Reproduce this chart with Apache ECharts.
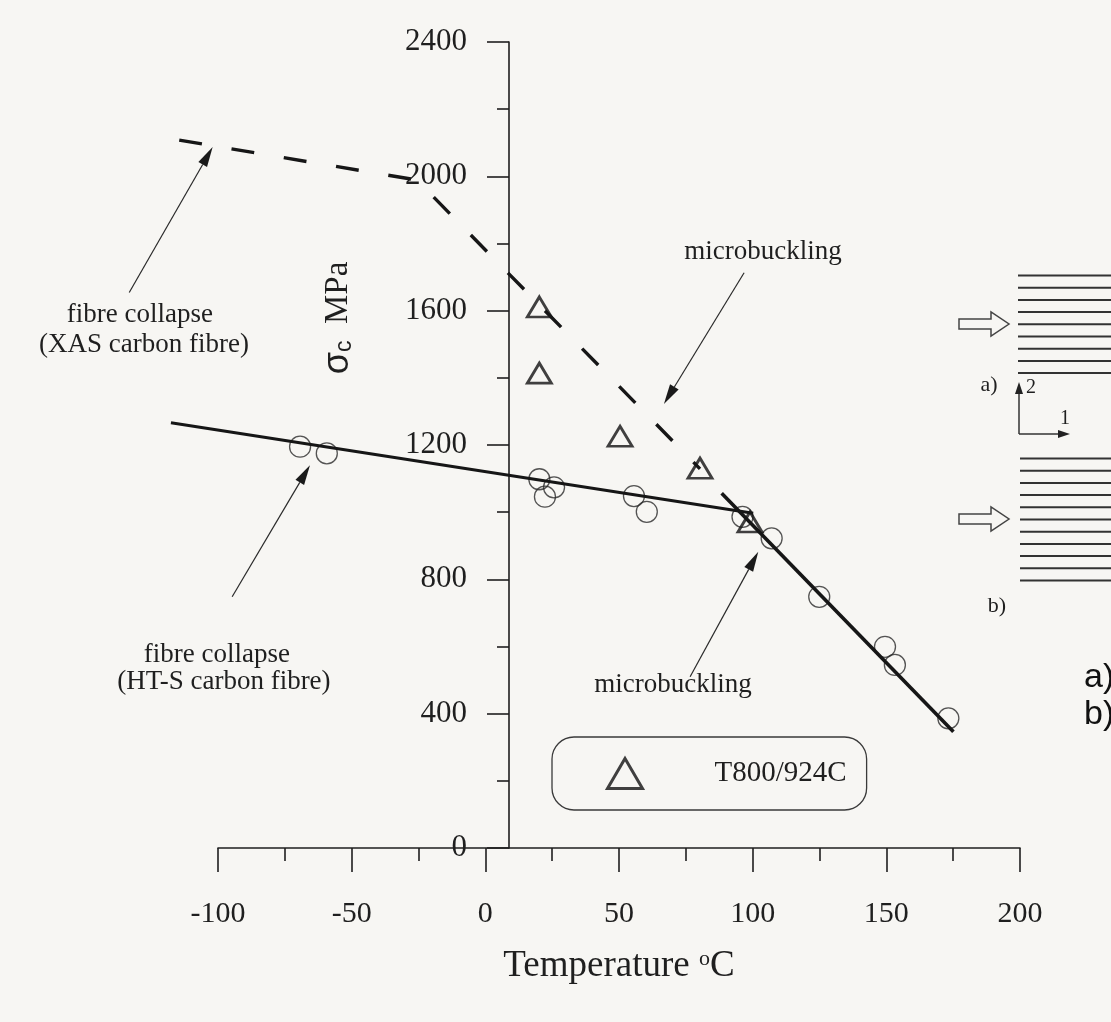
<!DOCTYPE html>
<html>
<head>
<meta charset="utf-8">
<script src="https://cdn.jsdelivr.net/npm/echarts@6/dist/echarts.min.js"></script>
<style>
  html, body { margin: 0; padding: 0; background: #f7f6f3; }
  #chart { width: 1111px; height: 1022px; }
</style>
</head>
<body>
<div id="chart"></div>
<script>
// Compressive strength of carbon-fibre composites vs. temperature

// XAS carbon fibre: fibre-collapse plateau, then microbuckling (dashed)
const xasTemp   = [-114.5, -25.6, 80.3];
const xasStress = [2108, 1989, 1129];

// HT-S carbon fibre: fibre-collapse branch (solid)
const htsLineTemp   = [-117.6, 100.2];
const htsLineStress = [1266, 997];

// Microbuckling branch (solid)
const mbLineTemp   = [88.4, 175.1];
const mbLineStress = [1056, 346];

// HT-S measurements (open circles)
const htsTemp   = [-69.3, -59.3, 20.2, 22.3, 25.7, 55.6, 60.4, 96.2, 107.1, 124.9, 149.5, 153.2, 173.2];
const htsStress = [1195, 1175, 1098, 1046, 1074, 1048, 1001, 986, 922, 748, 599, 545, 386];

// T800/924C measurements (open triangles)
const t800Temp   = [20.2, 20.2, 50.4, 80.3, 99.0];
const t800Stress = [1611, 1414, 1226, 1131, 971];

// Axis ranges (the lines run a little past the left end of the temperature axis)
const tempRange   = [-100, 200];
const plotTempMin = -130;
const stressRange = [0, 2400];

// Annotation arrows (tail -> head), in temperature / stress units
const noteArrowFrom = [[-133.2, 1654], [-94.7, 748], [96.8, 1713], [76.6, 510]];
const noteArrowTo   = [[-102.0, 2087], [-65.6, 1140], [66.8, 1322], [102.1, 882]];

// Annotation texts and their centres, in temperature / stress units
const noteTexts = ['fibre collapse', '(XAS carbon fibre)', 'fibre collapse', '(HT-S carbon fibre)', 'microbuckling', 'microbuckling'];
const noteAt    = [[-129.2, 1587], [-127.7, 1498], [-100.4, 575], [-97.8, 494], [103.9, 1775], [70.2, 485]];

const zip = (a, b) => a.map((v, i) => [v, b[i]]);
const ink = '#1f1f1f';
const serif = '"Liberation Serif", "Times New Roman", serif';
const sans = '"Liberation Sans", Arial, sans-serif';

const chart = echarts.init(document.getElementById('chart'), null, { renderer: 'canvas' });

const axisLineStyle = { color: ink, width: 1.6 };
const plotLeft = 218, plotRight = 91, plotTop = 42, plotBottom = 174;
const pxPerDeg = (1111 - plotLeft - plotRight) / (tempRange[1] - tempRange[0]);

chart.setOption({
  backgroundColor: '#f7f6f3',
  animation: false,
  textStyle: { fontFamily: serif, color: ink },
  grid: [
    // data grid, same scale as the temperature axis but reaching further left
    { left: plotLeft - (tempRange[0] - plotTempMin) * pxPerDeg, right: plotRight, top: plotTop, bottom: plotBottom },
    // temperature axis
    { left: plotLeft, right: plotRight, top: plotTop, bottom: plotBottom },
    // stress axis
    { left: 509, width: 20, top: plotTop, bottom: plotBottom }
  ],
  legend: {
    data: ['T800/924C'],
    left: 552, top: 737,
    padding: [20, 20, 20, 54],
    itemWidth: 35, itemHeight: 30,
    symbolKeepAspect: false,
    borderColor: '#3a3a3a', borderWidth: 1.3, borderRadius: 22,
    selectedMode: false,
    itemStyle: { color: 'rgba(0,0,0,0)', borderColor: '#111', borderWidth: 3 },
    textStyle: { fontSize: 29, fontFamily: serif, color: ink, padding: [0, 0, 0, 67] }
  },
  xAxis: [
    { gridIndex: 0, type: 'value', min: plotTempMin, max: tempRange[1], show: false },
    {
      gridIndex: 1, type: 'value', min: tempRange[0], max: tempRange[1], interval: 50,
      axisLine: { show: true, onZero: false, lineStyle: axisLineStyle },
      axisTick: { show: true, length: 24, lineStyle: axisLineStyle },
      minorTick: { show: true, splitNumber: 2, length: 13, lineStyle: axisLineStyle },
      splitLine: { show: false },
      axisLabel: { margin: 51, fontSize: 30, fontFamily: serif, color: ink },
      name: '{t|Temperature }{s|o}{t|C}',
      nameLocation: 'middle', nameGap: 100,
      nameTextStyle: {
        rich: {
          t: { fontSize: 37, fontFamily: serif, color: ink },
          s: { fontSize: 22, fontFamily: serif, color: ink, verticalAlign: 'top' }
        }
      }
    },
    { gridIndex: 2, type: 'value', min: 0, max: 1, show: false }
  ],
  yAxis: [
    { gridIndex: 0, type: 'value', min: stressRange[0], max: stressRange[1], show: false },
    { gridIndex: 1, type: 'value', min: stressRange[0], max: stressRange[1], show: false },
    {
      gridIndex: 2, type: 'value', min: stressRange[0], max: stressRange[1], interval: 400,
      position: 'left',
      axisLine: { show: true, onZero: false, lineStyle: axisLineStyle },
      axisTick: { show: true, length: 22, lineStyle: axisLineStyle },
      minorTick: { show: true, splitNumber: 2, length: 12, lineStyle: axisLineStyle },
      splitLine: { show: false },
      axisLabel: { margin: 42, fontSize: 31, fontFamily: serif, color: ink, formatter: v => String(v) }
    }
  ],
  series: [
    {
      name: 'XAS', type: 'line', xAxisIndex: 0, yAxisIndex: 0, clip: false, silent: true,
      data: zip(xasTemp, xasStress), symbol: 'none',
      lineStyle: { color: '#161616', width: 3.4, type: [23, 30] }
    },
    {
      name: 'HT-S', type: 'line', xAxisIndex: 0, yAxisIndex: 0, clip: false, silent: true,
      data: zip(htsLineTemp, htsLineStress), symbol: 'none',
      lineStyle: { color: '#161616', width: 3 }
    },
    {
      name: 'microbuckling', type: 'line', xAxisIndex: 0, yAxisIndex: 0, clip: false, silent: true,
      data: zip(mbLineTemp, mbLineStress), symbol: 'none',
      lineStyle: { color: '#161616', width: 3.6 }
    },
    {
      name: 'HT-S data', type: 'scatter', xAxisIndex: 0, yAxisIndex: 0, silent: true,
      data: zip(htsTemp, htsStress), symbol: 'circle', symbolSize: 21,
      itemStyle: { color: 'rgba(0,0,0,0)', borderColor: '#2a2a2a', borderWidth: 1.3 }
    },
    {
      name: 'T800/924C', type: 'scatter', xAxisIndex: 0, yAxisIndex: 0, silent: true,
      data: zip(t800Temp, t800Stress), symbol: 'triangle', symbolSize: [24, 20],
      itemStyle: { color: 'rgba(0,0,0,0)', borderColor: '#111', borderWidth: 2.8 }
    }
  ]
});

// --- annotations anchored to the data scale ---
const toPx = p => chart.convertToPixel({ gridIndex: 0 }, p);

function arrow(from, to) {
  const a = toPx(from), b = toPx(to);
  const dx = b[0] - a[0], dy = b[1] - a[1];
  const len = Math.hypot(dx, dy), ux = dx / len, uy = dy / len;
  const headL = 20, headW = 5;
  const bx = b[0] - ux * headL, by = b[1] - uy * headL;
  const nx = -uy, ny = ux;
  return [
    { type: 'line', silent: true, shape: { x1: a[0], y1: a[1], x2: bx, y2: by },
      style: { stroke: '#2a2a2a', lineWidth: 1.2 } },
    { type: 'polygon', silent: true,
      shape: { points: [b, [bx + nx * headW, by + ny * headW], [bx - nx * headW, by - ny * headW]] },
      style: { fill: '#1a1a1a' } }
  ];
}

const graphics = [];
noteArrowFrom.forEach((f, i) => graphics.push(...arrow(f, noteArrowTo[i])));
noteTexts.forEach((t, i) => {
  const p = toPx(noteAt[i]);
  graphics.push({ type: 'text', silent: true, x: p[0], y: p[1],
    style: { text: t, fontSize: 27, fontFamily: serif, fill: ink, align: 'center', verticalAlign: 'middle' } });
});

// stress axis title, reading upwards
graphics.push({
  type: 'text', silent: true, x: 338, y: 318, rotation: Math.PI / 2,
  style: {
    text: '{g|σ}{c|c}{m|  MPa}', align: 'center', verticalAlign: 'middle',
    rich: {
      g: { fontSize: 36, fontFamily: sans, fill: ink },
      c: { fontSize: 23, fontFamily: sans, fill: ink, verticalAlign: 'bottom' },
      m: { fontSize: 33, fontFamily: serif, fill: ink }
    }
  }
});

// --- loading-direction sketch at the right ---
const lineGroup = (x0, y0, n, step) => {
  for (let i = 0; i < n; i++) {
    const y = y0 + i * step;
    graphics.push({ type: 'line', silent: true, shape: { x1: x0, y1: y, x2: 1111, y2: y },
      style: { stroke: '#333', lineWidth: 2 } });
  }
};
const hollowArrow = (x0, yc) => {
  graphics.push({ type: 'polygon', silent: true,
    shape: { points: [[x0, yc - 5], [x0 + 32, yc - 5], [x0 + 32, yc - 12], [x0 + 50, yc], [x0 + 32, yc + 12], [x0 + 32, yc + 5], [x0, yc + 5]] },
    style: { fill: 'none', stroke: '#444', lineWidth: 1.5 } });
};
lineGroup(1018, 275.5, 9, 12.2);
lineGroup(1020, 458.5, 11, 12.2);
hollowArrow(959, 324);
hollowArrow(959, 519);

// 1-2 material axes and sketch captions
graphics.push(
  { type: 'line', silent: true, shape: { x1: 1019, y1: 434, x2: 1019, y2: 392 }, style: { stroke: '#333', lineWidth: 1.5 } },
  { type: 'polygon', silent: true, shape: { points: [[1015, 394], [1019, 382], [1023, 394]] }, style: { fill: '#222' } },
  { type: 'line', silent: true, shape: { x1: 1019, y1: 434, x2: 1060, y2: 434 }, style: { stroke: '#333', lineWidth: 1.5 } },
  { type: 'polygon', silent: true, shape: { points: [[1058, 430], [1070, 434], [1058, 438]] }, style: { fill: '#222' } },
  { type: 'text', silent: true, x: 1031, y: 388, style: { text: '2', fontSize: 20, fontFamily: serif, fill: ink, align: 'center', verticalAlign: 'middle' } },
  { type: 'text', silent: true, x: 1065, y: 419, style: { text: '1', fontSize: 20, fontFamily: serif, fill: ink, align: 'center', verticalAlign: 'middle' } },
  { type: 'text', silent: true, x: 989, y: 385, style: { text: 'a)', fontSize: 22, fontFamily: serif, fill: ink, align: 'center', verticalAlign: 'middle' } },
  { type: 'text', silent: true, x: 997, y: 606, style: { text: 'b)', fontSize: 22, fontFamily: serif, fill: ink, align: 'center', verticalAlign: 'middle' } },
  { type: 'text', silent: true, x: 1084, y: 678, style: { text: 'a)', fontSize: 34, fontFamily: sans, fill: '#111', align: 'left', verticalAlign: 'middle' } },
  { type: 'text', silent: true, x: 1084, y: 715, style: { text: 'b)', fontSize: 34, fontFamily: sans, fill: '#111', align: 'left', verticalAlign: 'middle' } }
);

chart.setOption({ graphic: graphics });
</script>
</body>
</html>
